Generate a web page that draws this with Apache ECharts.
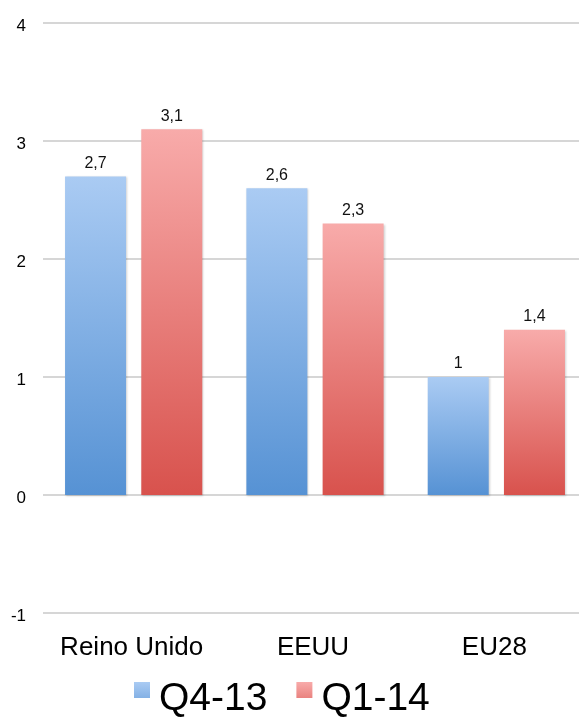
<!DOCTYPE html>
<html>
<head>
<meta charset="utf-8">
<script src="https://cdn.jsdelivr.net/npm/echarts@6/dist/echarts.min.js"></script>
<style>
  html, body { margin: 0; padding: 0; background: #ffffff; }
  #chart { width: 579px; height: 727px; }
</style>
</head>
<body>
<div id="chart"></div>
<script>
// Categories and quarterly values
var categories = ['Reino Unido', 'EEUU', 'EU28'];
var seriesNames = ['Q4-13', 'Q1-14'];
var q4_13 = [2.7, 2.6, 1];
var q1_14 = [3.1, 2.3, 1.4];
var yTicks = { min: -1, max: 4, interval: 1 };

var FONT = '"Liberation Sans", Arial, Helvetica, sans-serif';

function grad(top, bottom) {
  return new echarts.graphic.LinearGradient(0, 0, 0, 1, [
    { offset: 0, color: top },
    { offset: 1, color: bottom }
  ]);
}

function fmt(v) {
  return String(v).replace('.', ',');
}

// Legend marker: square sitting at the top of a taller (invisible) box
var legendIcon = 'path://M0,0h16v16h-16z M0,34.9h0.1v0.1h-0.1z';

function barSeries(name, data, top, bottom) {
  return {
    name: name,
    type: 'bar',
    data: data,
    barWidth: 61,
    barGap: '25%',
    itemStyle: {
      color: grad(top, bottom),
      shadowColor: 'rgba(0,0,0,0.18)',
      shadowBlur: 2,
      shadowOffsetX: 1,
      shadowOffsetY: 1
    },
    label: {
      show: true,
      position: 'top',
      distance: 5,
      color: '#111111',
      fontFamily: FONT,
      fontSize: 16,
      formatter: function (p) { return fmt(p.value); }
    }
  };
}

var chart = echarts.init(document.getElementById('chart'), null, { renderer: 'canvas' });
chart.setOption({
  animation: false,
  backgroundColor: '#ffffff',
  grid: { left: 43, width: 544, top: 23, bottom: 114, containLabel: false, outerBoundsMode: 'none' },
  legend: {
    data: seriesNames,
    left: 129,
    top: 675,
    icon: legendIcon,
    itemWidth: 16,
    itemHeight: 35,
    itemGap: 29,
    textStyle: {
      fontFamily: FONT,
      fontSize: 39,
      color: '#000000',
      padding: [0, 0, 0, 4]
    }
  },
  xAxis: {
    type: 'category',
    data: categories,
    axisLine: { show: false },
    axisTick: { show: false },
    axisLabel: {
      interval: 0,
      hideOverlap: false,
      margin: 22,
      fontFamily: FONT,
      fontSize: 26,
      color: '#000000',
      padding: [0, 4, 0, 0]
    }
  },
  yAxis: {
    type: 'value',
    min: yTicks.min,
    max: yTicks.max,
    interval: yTicks.interval,
    axisLine: { show: false },
    axisTick: { show: false },
    axisLabel: {
      margin: 17,
      fontFamily: FONT,
      fontSize: 17,
      color: '#000000',
      formatter: function (v) { return '{t|' + v + '}'; },
      rich: {
        t: { fontFamily: FONT, fontSize: 17, color: '#000000', padding: [6, 0, 0, 0] }
      }
    },
    splitLine: { lineStyle: { color: '#c8c8c8', width: 1.5 } }
  },
  series: [
    barSeries(seriesNames[0], q4_13, '#aacbf3', '#5692d4'),
    barSeries(seriesNames[1], q1_14, '#f8abaa', '#d8524d')
  ]
});
</script>
</body>
</html>
